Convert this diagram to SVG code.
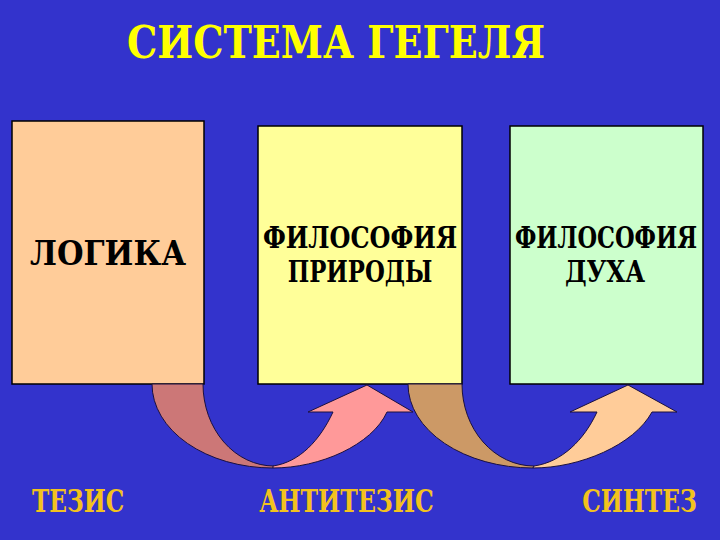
<svg xmlns="http://www.w3.org/2000/svg" width="720" height="540" viewBox="0 0 720 540">
<style>
.box{stroke:#000;stroke-width:1.5}
.t{font-family:'DejaVu Serif',serif;font-weight:bold;text-anchor:middle}
.bt{font-size:30px;fill:#000}
.lab{font-size:32px;fill:#F2C21E}
.arr{stroke:#1a1040;stroke-width:1;stroke-linejoin:round}
</style>
<rect x="0" y="0" width="720" height="540" fill="#3333CC"/>
<text class="t" x="336" y="58" font-size="44" fill="#FFFF00" textLength="418" lengthAdjust="spacingAndGlyphs">СИСТЕМА ГЕГЕЛЯ</text>
<g id="logic">
<rect class="box" x="12" y="121" width="192" height="263" fill="#FFCC99"/>
<text class="t" transform="translate(108,265) scale(0.8,1)" font-size="33" fill="#000" textLength="195" lengthAdjust="spacingAndGlyphs">ЛОГИКА</text>
</g>
<g id="nature">
<rect class="box" x="258" y="126" width="204" height="258" fill="#FFFF99"/>
<text class="t bt" transform="translate(360,248) scale(0.75,1)" textLength="259" lengthAdjust="spacingAndGlyphs">ФИЛОСОФИЯ</text>
<text class="t bt" transform="translate(360,282) scale(0.75,1)" textLength="193" lengthAdjust="spacingAndGlyphs">ПРИРОДЫ</text>
</g>
<g id="spirit">
<rect class="box" x="510" y="126" width="193" height="258" fill="#CCFFCC"/>
<text class="t bt" transform="translate(606,248) scale(0.75,1)" textLength="243" lengthAdjust="spacingAndGlyphs">ФИЛОСОФИЯ</text>
<text class="t bt" transform="translate(605,282) scale(0.75,1)" textLength="107" lengthAdjust="spacingAndGlyphs">ДУХА</text>
</g>
<g id="connectors">
<path class="arr" fill="#CC7777" d="M152,384 L203,384 A71 82 0 0 0 274,466 L273,468 A121 84 0 0 1 152,384 Z"/>
<path class="arr" fill="#FF9999" d="M273,468 C320,468 372,445 387,412 L413,412 L367,385 L308,412 L333,412 C320,440 300,462 273,466 Z"/>
<path class="arr" fill="#CC9966" d="M408,384 L462,384 A72 82 0 0 0 534,466 L533,468 A125 84 0 0 1 408,384 Z"/>
<path class="arr" fill="#FFCC99" d="M533,468 C580,468 634,445 652,412 L677,412 L628,385 L570,412 L597,412 C584,440 562,462 534,466 Z"/>
</g>
<g id="labels">
<text class="t lab" transform="translate(78,512) scale(0.75,1)" textLength="123" lengthAdjust="spacingAndGlyphs">ТЕЗИС</text>
<text class="t lab" transform="translate(346.5,512) scale(0.75,1)" textLength="233" lengthAdjust="spacingAndGlyphs">АНТИТЕЗИС</text>
<text class="t lab" transform="translate(639.5,512) scale(0.75,1)" textLength="153" lengthAdjust="spacingAndGlyphs">СИНТЕЗ</text>
</g>
</svg>
